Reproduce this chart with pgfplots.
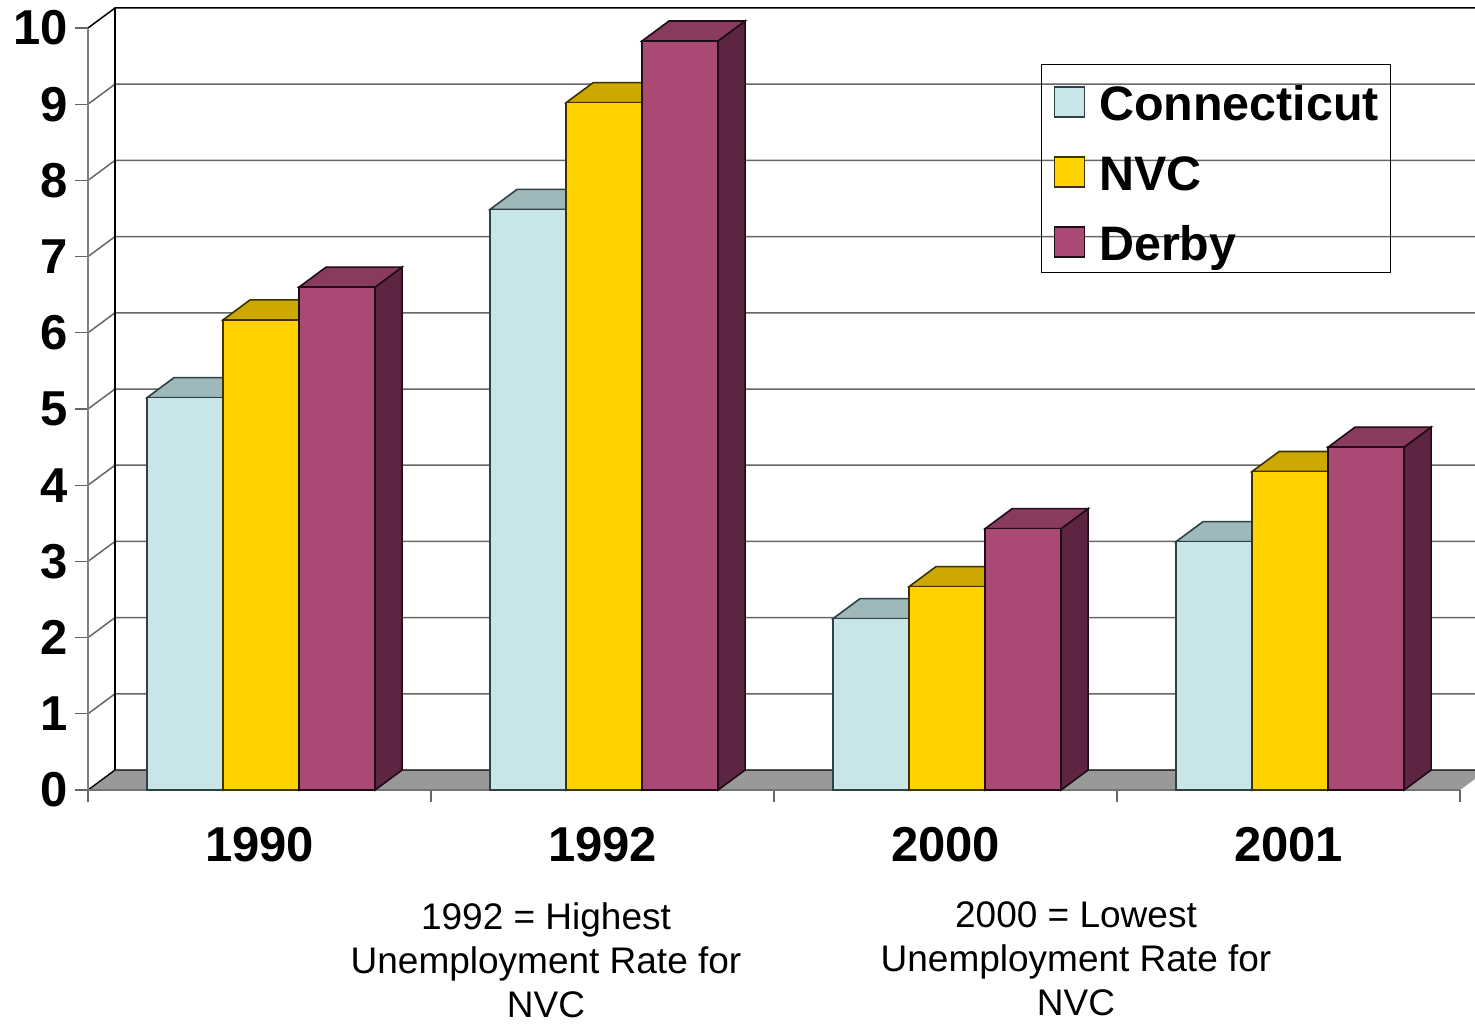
\documentclass[border=0pt]{standalone}
\usepackage{fontspec}
\setmainfont{Liberation Sans}
\usepackage{pgfplots}
\pgfplotsset{compat=1.18}
\definecolor{ctF}{HTML}{C8E6E8}
\definecolor{ctT}{HTML}{9FB8B9}
\definecolor{ctS}{HTML}{647374}
\definecolor{ctE}{HTML}{2F4243}
\definecolor{nvF}{HTML}{FFD300}
\definecolor{nvT}{HTML}{CCA800}
\definecolor{nvS}{HTML}{806A00}
\definecolor{nvE}{HTML}{3D3200}
\definecolor{dbF}{HTML}{AA4A74}
\definecolor{dbT}{HTML}{883B5D}
\definecolor{dbS}{HTML}{5E2542}
\definecolor{dbE}{HTML}{1E0C16}
\definecolor{floorc}{HTML}{999999}
\tikzset{barfront/.style={},bartop/.style={},barside/.style={}}
\pgfdeclareplotmark{bar3d}{%
  \pgfmathsetmacro\bh{\rawy*38.1}%
  \pgfmathsetmacro\bb{10-\bh}%
  \path[barside] (19pt,0pt) -- (32.5pt,10pt) -- (32.5pt,\bb pt) -- (19pt,-\bh pt) -- cycle;
  \path[bartop] (-19pt,0pt) -- (19pt,0pt) -- (32.5pt,10pt) -- (-5.5pt,10pt) -- cycle;
  \path[barfront] (-19pt,-\bh pt) rectangle (19pt,0pt);
}
\begin{document}
\begin{tikzpicture}
\useasboundingbox (-44pt,-117pt) rectangle (693.5pt,395pt);
% floor
\fill[floorc] (0pt,0pt) -- (686pt,0pt) -- (699.5pt,10pt) -- (13.5pt,10pt) -- cycle;
\draw[black, line width=0.7pt] (0pt,0pt) -- (13.5pt,10pt) -- (700pt,10pt);
% back wall grid
\foreach \k in {1,...,9} {
  \draw[black!60, line width=0.75pt] (0pt,\k*38.1pt) -- (13.5pt,\k*38.1pt+10pt) -- (700pt,\k*38.1pt+10pt);
}
\draw[black, line width=0.75pt] (0pt,381pt) -- (13.5pt,391pt) -- (700pt,391pt);
\draw[black, line width=0.75pt] (13.5pt,10pt) -- (13.5pt,391pt);
\begin{axis}[
  scale only axis, width=686pt, height=381pt,
  xmin=-0.5, xmax=3.5, ymin=0, ymax=10,
  clip=false,
  axis x line*=bottom, axis y line*=left,
  x axis line style={black!55, line width=0.6pt},
  y axis line style={black!50, line width=1.2pt},
  xtick={0,1,2,3}, xticklabels={1990,1992,2000,2001},
  minor xtick={-0.5,0.5,1.5,2.5,3.5},
  major x tick style={draw=none},
  minor x tick style={black!60, line width=0.6pt},
  ytick={0,1,...,10},
  y tick style={black!60, line width=0.6pt},
  tick align=outside,
  major tick length=6.5pt, minor tick length=6pt,
  /pgf/number format/assume math mode=true,
  ticklabel style={font=\fontsize{24.5}{28}\selectfont\bfseries},
  yticklabel style={inner sep=0pt, xshift=-3.5pt},
  xticklabel style={inner sep=0pt, yshift=-12pt},
  legend cell align=left,
  legend style={at={(0.6946,0.9528)}, anchor=north west, draw=black, line width=0.6pt, fill=none,
    font=\fontsize{24.2}{28}\selectfont\bfseries, inner xsep=6pt, inner ysep=1pt, row sep=3pt,
    nodes={inner sep=0pt, text height=27pt, text depth=5pt},
    /tikz/every odd column/.append style={column sep=7pt}},
]
\addplot[only marks, mark=bar3d, visualization depends on={rawy \as \rawy},
  mark options={xshift=-37.2pt,
    barfront/.style={fill=ctF,draw=ctE,line width=0.8pt},
    bartop/.style={fill=ctT,draw=ctE,line width=0.8pt},
    barside/.style={fill=ctS,draw=ctE,line width=0.8pt}},
  legend image code/.code={\draw[fill=ctF,draw=ctE,line width=0.8pt] (0pt,-9.25pt) rectangle (15pt,5.75pt);}]
  coordinates {(0,5.15) (1,7.62) (2,2.25) (3,3.26)};
\addlegendentry{Connecticut}
\addplot[only marks, mark=bar3d, visualization depends on={rawy \as \rawy},
  mark options={xshift=0.8pt,
    barfront/.style={fill=nvF,draw=nvE,line width=0.8pt},
    bartop/.style={fill=nvT,draw=nvE,line width=0.8pt},
    barside/.style={fill=nvS,draw=nvE,line width=0.8pt}},
  legend image code/.code={\draw[fill=nvF,draw=nvE,line width=0.8pt] (0pt,-9.25pt) rectangle (15pt,5.75pt);}]
  coordinates {(0,6.17) (1,9.02) (2,2.67) (3,4.18)};
\addlegendentry{NVC}
\addplot[only marks, mark=bar3d, visualization depends on={rawy \as \rawy},
  mark options={xshift=38.8pt,
    barfront/.style={fill=dbF,draw=dbE,line width=0.8pt},
    bartop/.style={fill=dbT,draw=dbE,line width=0.8pt},
    barside/.style={fill=dbS,draw=dbE,line width=0.8pt}},
  legend image code/.code={\draw[fill=dbF,draw=dbE,line width=0.8pt] (0pt,-9.25pt) rectangle (15pt,5.75pt);}]
  coordinates {(0,6.6) (1,9.83) (2,3.43) (3,4.5)};
\addlegendentry{Derby}
\end{axis}
\node[anchor=north, align=center, inner sep=0pt, font=\fontsize{18.5}{22}\selectfont] at (229pt,-56pt) {1992 = Highest\\Unemployment Rate for\\NVC};
\node[anchor=north, align=center, inner sep=0pt, font=\fontsize{18.5}{22}\selectfont] at (494pt,-55.5pt) {2000 = Lowest\\Unemployment Rate for\\NVC};
\end{tikzpicture}
\end{document}
